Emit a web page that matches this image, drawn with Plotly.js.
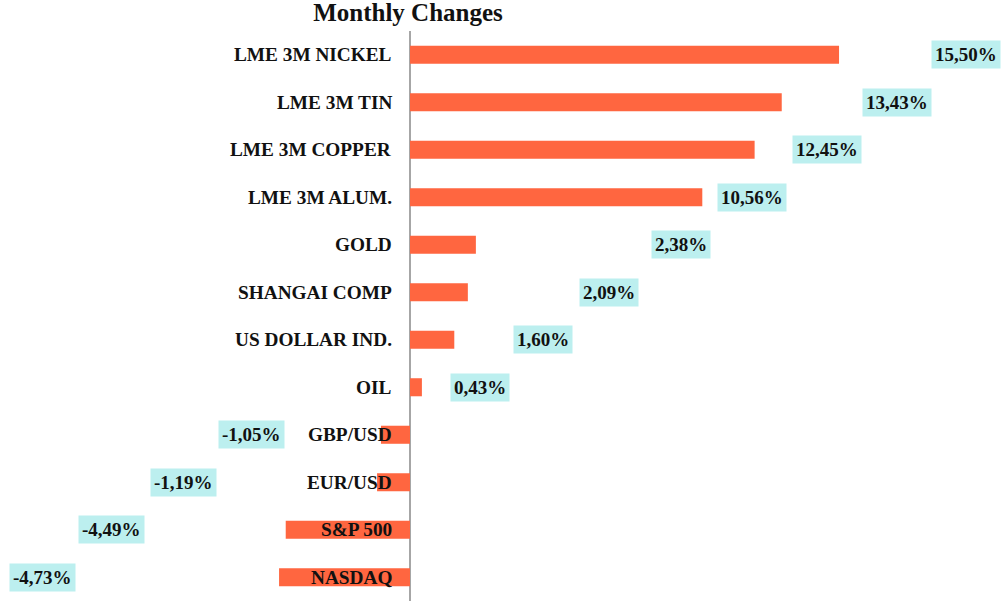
<!DOCTYPE html>
<html>
<head>
<meta charset="utf-8">
<script src="https://cdn.plot.ly/plotly-3.0.1.min.js"></script>
<style>html,body{margin:0;padding:0;background:#fff;}#chart{width:1005px;height:602px;}</style>
</head>
<body>
<div id="chart"></div>
<script>
const categories = ["LME 3M NICKEL","LME 3M TIN","LME 3M COPPER","LME 3M ALUM.","GOLD","SHANGAI COMP","US DOLLAR IND.","OIL","GBP/USD","EUR/USD","S&P 500","NASDAQ"];
const values = [15.50, 13.43, 12.45, 10.56, 2.38, 2.09, 1.60, 0.43, -1.05, -1.19, -4.49, -4.73];
const valueLabels = ["15,50%","13,43%","12,45%","10,56%","2,38%","2,09%","1,60%","0,43%","-1,05%","-1,19%","-4,49%","-4,73%"];
// label box centre positions (paper fraction of width)
const labelPos = [966, 897, 827, 752, 681, 609, 543, 480, 251, 183, 111, 42].map(p => p / 1005);

const fam = "'Liberation Serif', 'Times New Roman', serif";
const catFont = {family: fam, size: 19.3, color: "#111"};
const valFont = {family: fam, size: 19, color: "#111"};

const annotations = [];
categories.forEach((c, i) => {
  annotations.push({x: 0, y: c, xref: 'x', yref: 'y', text: '<b>' + c.replace('&','&amp;') + '</b>', showarrow: false,
    xanchor: 'right', xshift: -16, font: catFont});
  annotations.push({x: labelPos[i], y: c, xref: 'paper', yref: 'y', text: '<b>' + valueLabels[i] + '</b>', showarrow: false,
    xanchor: 'center', font: valFont, bgcolor: '#bcefef', borderpad: 3});
});

const trace = {type: 'bar', orientation: 'h', y: categories, x: values,
  marker: {color: '#ff6640'}, width: 0.38, hoverinfo: 'none'};

const layout = {
  width: 1005, height: 602,
  margin: {l: 0, r: 0, t: 31, b: 1},
  paper_bgcolor: '#fff', plot_bgcolor: '#fff',
  showlegend: false,
  title: {text: '<b>Monthly Changes</b>', x: 408/1005, xanchor: 'center', y: 0.979, yanchor: 'middle',
    font: {family: fam, size: 25, color: '#111'}},
  xaxis: {range: [-410/27.68, 595/27.68], showgrid: false, showticklabels: false, ticks: '',
    zeroline: true, zerolinecolor: '#a6a6a6', zerolinewidth: 1.5, fixedrange: true},
  yaxis: {type: 'category', autorange: 'reversed', showgrid: false, showticklabels: false, ticks: '', zeroline: false},
  annotations: annotations
};

Plotly.newPlot('chart', [trace], layout, {displayModeBar: false, staticPlot: true});
</script>
</body>
</html>
